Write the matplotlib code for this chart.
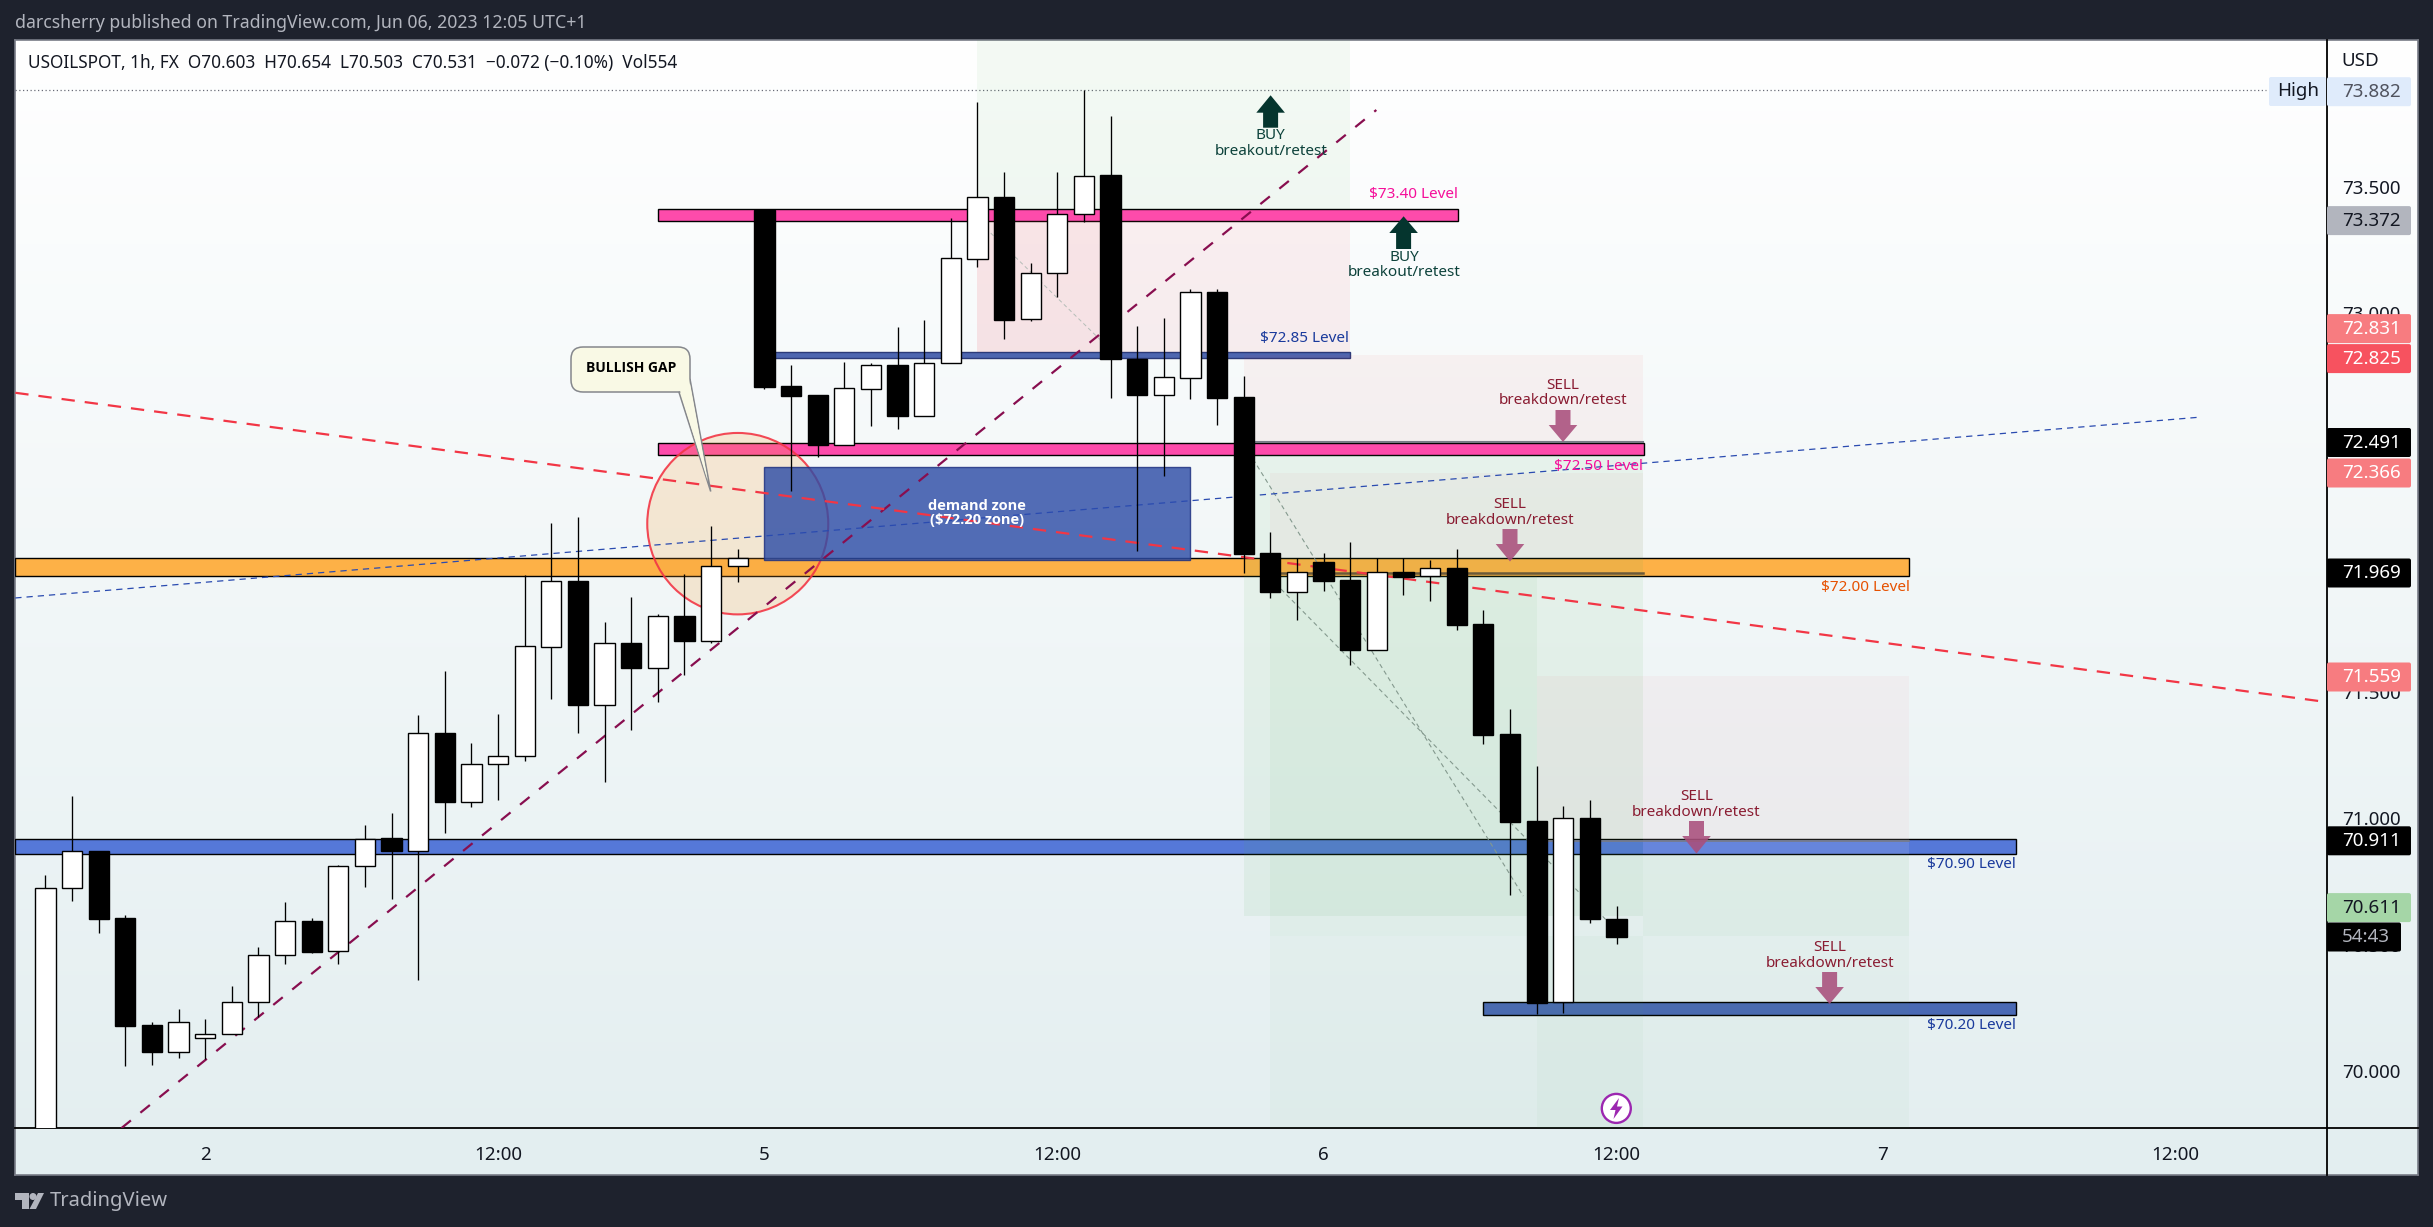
import numpy as np
import matplotlib
matplotlib.use("Agg")
import matplotlib.pyplot as plt
from matplotlib.patches import Rectangle, Ellipse, Polygon, FancyBboxPatch, Circle

plt.rcParams['font.family'] = ['Noto Sans', 'DejaVu Sans']

W, H = 2433, 1227
DARK = "#1e222d"

# hourly candles
opens = [69.49, 70.723, 70.871, 70.605, 70.182, 70.077, 70.129, 70.145, 70.272, 70.461,
         70.594, 70.473, 70.810, 70.922, 70.871, 71.337, 71.066, 71.213, 71.245, 71.679,
         71.941, 71.449, 71.694, 71.596, 71.800, 71.702, 71.998, 73.407, 72.711, 72.675,
         72.478, 72.700, 72.794, 72.593, 72.800, 73.215, 73.458, 72.974, 73.158, 73.393,
         73.546, 72.817, 72.677, 72.744, 73.083, 72.667, 72.051, 71.897, 72.014, 71.943,
         71.666, 71.975, 71.960, 71.990, 71.769, 71.334, 70.989, 70.273, 71.001, 70.603]
highs = [70.776, 71.088, 70.871, 70.617, 70.192, 70.245, 70.206, 70.336, 70.491, 70.669,
         70.605, 70.815, 70.973, 71.021, 71.409, 71.583, 71.298, 71.413, 71.963, 72.169,
         72.192, 71.777, 71.876, 71.808, 71.967, 72.157, 72.066, 73.407, 72.794, 72.675,
         72.806, 72.802, 72.944, 72.972, 73.375, 73.834, 73.557, 73.197, 73.557, 73.882,
         73.779, 72.948, 72.980, 73.094, 73.094, 72.750, 72.133, 72.032, 72.050, 72.093,
         72.032, 72.032, 72.024, 72.066, 71.824, 71.432, 71.207, 71.049, 71.072, 70.654]
lows = [69.45, 70.674, 70.547, 70.021, 70.025, 70.053, 70.048, 70.145, 70.214, 70.423,
        70.467, 70.423, 70.728, 70.681, 70.360, 70.942, 71.045, 71.072, 71.227, 71.472,
        71.338, 71.144, 71.349, 71.460, 71.568, 71.694, 71.937, 72.699, 72.295, 72.430,
        72.478, 72.552, 72.540, 72.593, 72.800, 73.181, 72.897, 72.968, 73.063, 73.360,
        72.663, 72.058, 72.354, 72.659, 72.556, 71.971, 71.872, 71.785, 71.899, 71.607,
        71.666, 71.884, 71.860, 71.745, 71.294, 70.696, 70.226, 70.230, 70.586, 70.503]
closes = [70.724, 70.871, 70.602, 70.180, 70.075, 70.192, 70.145, 70.272, 70.461, 70.594,
          70.471, 70.811, 70.920, 70.871, 71.337, 71.066, 71.213, 71.245, 71.680, 71.941,
          71.449, 71.694, 71.596, 71.799, 71.702, 71.998, 72.032, 72.708, 72.673, 72.478,
          72.701, 72.792, 72.592, 72.800, 73.217, 73.457, 72.972, 73.158, 73.393, 73.543,
          72.816, 72.675, 72.746, 73.083, 72.663, 72.047, 71.895, 71.975, 71.939, 71.666,
          71.975, 71.956, 71.990, 71.766, 71.330, 70.985, 70.271, 71.001, 70.601, 70.531]

time_tick_pos = [6, 17, 27, 38, 48, 59, 69, 80]
time_tick_labels = ["2", "12:00", "5", "12:00", "6", "12:00", "7", "12:00"]
price_ticks = [70.0, 70.5, 71.0, 71.5, 72.0, 72.5, 73.0, 73.5]

price_high = 73.882

# price label, row on the axis (px), box colour, text colour
axis_labels = [("73.882", 91.7, "#dfebfb", "#50535e"),
               ("73.372", 220.6, "#b2b5be", "#131722"),
               ("72.831", 328.6, "#f77c80", "#ffffff"),
               ("72.825", 358.6, "#f7525f", "#ffffff"),
               ("72.491", 442.5, "#000000", "#ffffff"),
               ("72.366", 473.0, "#f77c80", "#ffffff"),
               ("71.969", 573.0, "#000000", "#ffffff"),
               ("71.559", 677.0, "#f77c80", "#ffffff"),
               ("70.911", 840.8, "#000000", "#ffffff"),
               ("70.611", 907.6, "#a5d6a7", "#131722")]


def y_to_price(y):
    return 74.238 - y / 252.7


def add_level(ax, x0, x1, p_low, p_high, color, z=2, edge="black"):
    ax.add_patch(Rectangle((x0, p_low), x1 - x0, p_high - p_low, facecolor=color, edgecolor=edge,
                           linewidth=1.0, zorder=z))


def add_zone(ax, x0, x1, p_low, p_high, color, alpha):
    ax.add_patch(Rectangle((x0, p_low), x1 - x0, p_high - p_low, facecolor=color, edgecolor="none",
                           alpha=alpha, zorder=3))


def put(ov, x, y, s, size=11, color="black", ha="center", weight="normal", family=None):
    ov.text(x, y, s, fontsize=size, color=color, ha=ha, va="center", fontweight=weight, linespacing=1.05,
            family=family)


def arrow_up(ov, x, tip, base, end, color):
    ov.add_patch(Polygon([(x, tip), (x + 14.3, base), (x + 7.5, base), (x + 7.5, end), (x - 7.5, end),
                          (x - 7.5, base), (x - 14.3, base)], closed=True, facecolor=color, edgecolor="none"))


def arrow_down(ov, x, tip, base, end, color):
    ov.add_patch(Polygon([(x, tip), (x + 14.3, base), (x + 7.5, base), (x + 7.5, end), (x - 7.5, end),
                          (x - 7.5, base), (x - 14.3, base)], closed=True, facecolor=color, edgecolor="none",
                         alpha=0.88))


fig = plt.figure(figsize=(W / 100, H / 100), dpi=100, facecolor=DARK)

# gradient panel behind everything
bg = fig.add_axes([15 / W, 1 - 1175 / H, (2418 - 15) / W, (1175 - 40) / H])
top_col = np.array([255, 255, 255]) / 255
bot_col = np.array([227, 238, 240]) / 255
grad = np.linspace(0, 1, 256)[:, None, None] * (bot_col - top_col)[None, None, :] + top_col[None, None, :]
bg.imshow(grad, aspect="auto", extent=[0, 1, 0, 1])
bg.set_xticks([])
bg.set_yticks([])
for s in bg.spines.values():
    s.set_color("#787b86")
    s.set_linewidth(1.2)

# main chart
ax = fig.add_axes([15.3 / W, 1 - 1128 / H, (2327 - 15.3) / W, (1128 - 40) / H])
ax.patch.set_visible(False)
ax.set_xlim(-1.13, 85.68)
ax.set_ylim(69.7745, 74.08)

# position tools, behind levels
add_zone(ax, 35, 49, 73.41, 74.08, "#4caf50", 0.06)
add_zone(ax, 35, 49, 72.847, 73.365, "#f23645", 0.07)
add_zone(ax, 35, 40, 72.847, 73.365, "#f23645", 0.05)
add_zone(ax, 45, 60, 72.487, 72.835, "#f23645", 0.05)
add_zone(ax, 46, 60, 72.032, 72.368, "#f23645", 0.04)

# levels
add_level(ax, 23.0, 53.04, 73.365, 73.413, "#fd4bab")
add_level(ax, 27.0, 49.0, 72.823, 72.847, "#4d66b0", edge="#2b3a78")
add_level(ax, 23.0, 60.03, 72.436, 72.487, "#fd4bab")
add_level(ax, -1.13, 70.0, 71.957, 72.032, "#fdb147")
add_level(ax, -1.13, 74.0, 70.860, 70.917, "#5578d8")
add_level(ax, 54.0, 74.0, 70.223, 70.273, "#4a69b4")

# green target areas and the last sell tool sit over the levels
add_zone(ax, 45, 60, 70.614, 72.436, "#4caf50", 0.08)
add_zone(ax, 46, 56, y_to_price(936), 71.957, "#4caf50", 0.06)
add_zone(ax, 46, 60, 69.7745, y_to_price(936), "#4caf50", 0.035)
add_zone(ax, 60, 70, y_to_price(936), 70.86, "#4caf50", 0.04)
add_zone(ax, 56, 70, 69.7745, 70.86, "#4caf50", 0.035)
add_zone(ax, 56, 70, 70.917, 71.563, "#f23645", 0.04)
add_zone(ax, 60, 70, 70.86, 70.917, "#ffffff", 0.10)

# entry lines of the tools
ax.plot([45, 60], [72.491, 72.491], color="#787b86", lw=1.5, zorder=3)
ax.plot([46, 60], [71.969, 71.969], color="#6b5a3a", lw=1.8, zorder=3)
ax.plot([56, 70], [70.911, 70.911], color="#787b86", lw=1.2, zorder=3)

# high line
ax.plot([-1.13, 83.4], [price_high, price_high], color="#6a6d78", lw=0.9, ls=(0, (1, 2)), zorder=2)

# thin gray fibs
ax.plot([35.5, 39.7], [y_to_price(233), y_to_price(342)], color="#b5bdb8", lw=0.7, ls=(0, (4, 3)), zorder=4)
ax.plot([45.35, 55.5], [y_to_price(459), y_to_price(896)], color="#84998e", lw=0.8, ls=(0, (4, 3)), zorder=4)
ax.plot([46.4, 58.8], [y_to_price(589), y_to_price(925)], color="#84998e", lw=0.8, ls=(0, (4, 3)), zorder=4)

# circle around the gap
ax.add_patch(Ellipse((26, 72.166), 6.797, 0.718, facecolor="#f7a23b", edgecolor="none", alpha=0.2, zorder=4))
ax.add_patch(Ellipse((26, 72.166), 6.797, 0.718, facecolor="none", edgecolor="#f23645", lw=1.5, alpha=0.9, zorder=4))

# demand zone
ax.add_patch(Rectangle((27, 72.024), 16, 0.368, facecolor="#2e4da6", edgecolor="#1c2f80", alpha=0.82,
                       lw=1.0, zorder=4))

# trend lines
ax.plot([2.854, 49.98], [69.774, 73.803], color="#880e4f", lw=1.6, ls=(0, (5.5, 5.5)), zorder=5)
ax.plot([-1.13, 85.67], [72.684, 71.460], color="#f23645", lw=1.6, ls=(0, (6, 4.5)), zorder=5)
ax.plot([-1.13, 80.97], [71.872, 72.588], color="#2a4bb0", lw=0.9, ls=(0, (5, 4)), zorder=5)

# candles
idx = np.arange(len(opens))
for i in idx:
    ax.plot([i, i], [lows[i], highs[i]], color="black", lw=0.95, zorder=6, solid_capstyle="butt")
    bottom = min(opens[i], closes[i])
    height = abs(closes[i] - opens[i])
    col = "white" if closes[i] >= opens[i] else "black"
    ax.bar(i, height, width=0.76, bottom=bottom, color=col, edgecolor="black", linewidth=1.0, zorder=7)

ax.set_xticks(time_tick_pos)
ax.set_xticklabels(time_tick_labels)
ax.set_yticks(price_ticks)
ax.set_yticklabels([f"{p:.3f}" for p in price_ticks])
ax.yaxis.tick_right()
ax.tick_params(axis="x", length=0, pad=13, labelsize=13.5, labelcolor="#131722")
ax.tick_params(axis="y", length=0, pad=10.6, labelsize=13.5, labelcolor="#131722")
for side in ["left", "top"]:
    ax.spines[side].set_visible(False)
for side in ["right", "bottom"]:
    ax.spines[side].set_color("black")
    ax.spines[side].set_linewidth(1.3)

# overlay in pixels: annotations and chrome
ov = fig.add_axes([0, 0, 1, 1])
ov.patch.set_visible(False)
ov.set_xlim(0, W)
ov.set_ylim(H, 0)
ov.axis("off")

ov.plot([2327, 2327], [1128, 1175], color="black", lw=1.3)
ov.plot([2327, 2418], [1128, 1128], color="black", lw=1.3)

put(ov, 15, 23, "darcsherry published on TradingView.com, Jun 06, 2023 12:05 UTC+1", 12.75, "#b2b5be", "left")
put(ov, 27.5, 63, "USOILSPOT, 1h, FX  O70.603  H70.654  L70.503  C70.531  \u22120.072 (\u22120.10%)  Vol554", 12.4, "#131722", "left")
put(ov, 2341.7, 60.5, "USD", 13.5, "#131722", "left")

# callout
tail = Polygon([(678.6, 391), (710.7, 491.5), (690, 379)], closed=True, facecolor="#f9f9e5", edgecolor="#85878c", lw=1.1)
box = FancyBboxPatch((579, 355), 103, 29, boxstyle="round,pad=8,rounding_size=12", facecolor="#f9f9e5",
                     edgecolor="#85878c", lw=1.1)
ov.add_patch(tail)
ov.add_patch(box)
ov.add_patch(Polygon([(679.5, 389), (708, 482), (689, 379)], closed=True, facecolor="#f9f9e5", edgecolor="none"))
put(ov, 631, 368.5, "BULLISH GAP", 10, "black", weight="bold", family="Open Sans")

put(ov, 977, 512.9, "demand zone\n($72.20 zone)", 10.5, "white", weight="bold", family="Open Sans")

# buy / sell signs
BUY_COL = "#05352e"
BUY_TXT = "#0d423b"
SELL_COL = "#a94f7c"
SELL_TXT = "#8a1c32"
arrow_up(ov, 1270.6, 95.3, 112.7, 127.7, BUY_COL)
put(ov, 1270.8, 143.3, "BUY\nbreakout/retest", 11, BUY_TXT)
arrow_up(ov, 1403.6, 216.3, 233, 249, BUY_COL)
put(ov, 1404, 265.1, "BUY\nbreakout/retest", 11, BUY_TXT)

sell_signs = [(1563, 442, 425, 410, 393.1),
              (1510, 561.5, 544, 529, 512.3),
              (1696.5, 853.6, 836, 821, 804.4),
              (1829.6, 1004, 987, 972, 955.3)]
for x, tip, base, end, text_y in sell_signs:
    arrow_down(ov, x, tip, base, end, SELL_COL)
    put(ov, x, text_y, "SELL\nbreakdown/retest", 11, SELL_TXT)

# level captions
put(ov, 1457.6, 194.5, "$73.40 Level", 11, "#f50f9a", "right")
put(ov, 1349.5, 338.5, "$72.85 Level", 11, "#1a3a9c", "right")
put(ov, 1642.9, 466.6, "$72.50 Level", 11, "#f50f9a", "right")
put(ov, 1909.7, 587.6, "$72.00 Level", 11, "#e65100", "right")
put(ov, 2016, 864.4, "$70.90 Level", 11, "#1a3a9c", "right")
put(ov, 2016, 1025.4, "$70.20 Level", 11, "#1a3a9c", "right")

# price axis labels
for txt, y, col, tcol in axis_labels:
    ov.add_patch(FancyBboxPatch((2328, y - 13.5), 82, 27, boxstyle="round,pad=1,rounding_size=2", facecolor=col,
                                edgecolor="none"))
    put(ov, 2341.7, y, txt, 13.5, tcol, "left", "medium" if tcol == "#ffffff" else "normal")
ov.add_patch(FancyBboxPatch((2328, 923.5), 72, 27, boxstyle="round,pad=1,rounding_size=2", facecolor="black",
                            edgecolor="none"))
put(ov, 2341.7, 937, "54:43", 13.5, "#b2b5be", "left", "medium")
ov.add_patch(FancyBboxPatch((2270, 78), 55, 27, boxstyle="round,pad=1,rounding_size=2", facecolor="#dfebfb",
                            edgecolor="none"))
put(ov, 2277, 91, "High", 13.5, "#131722", "left")

# lightning marker
ov.add_patch(Circle((1616.3, 1108.4), 14.5, facecolor="white", edgecolor="#9c27b0", lw=1.7))
ov.add_patch(Polygon([(1619, 1098), (1610, 1110), (1615.5, 1110), (1613.5, 1119), (1622.5, 1106.5),
                      (1617, 1106.5)], closed=True, facecolor="#9c27b0", edgecolor="none"))

# TradingView logo
ov.add_patch(Polygon([(15, 1193), (29, 1193), (29, 1209), (22, 1209), (22, 1200), (15, 1200)], closed=True,
                     facecolor="#b2b5be", edgecolor="none"))
ov.add_patch(Circle((33, 1196.5), 3.5, facecolor="#b2b5be", edgecolor="none"))
ov.add_patch(Polygon([(38, 1193), (44, 1193), (36, 1209), (29.5, 1209)], closed=True, facecolor="#b2b5be",
                     edgecolor="none"))
put(ov, 50, 1201, "TradingView", 14.5, "#b2b5be", "left")

plt.savefig("out.png", dpi=100, facecolor=DARK)
